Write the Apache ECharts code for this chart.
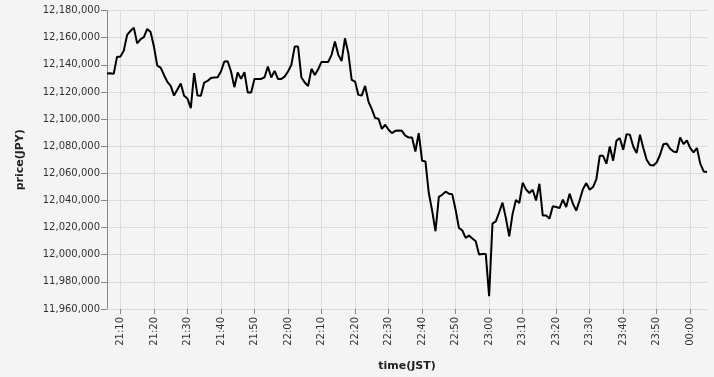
<!DOCTYPE html>
<html>
<head>
<meta charset="utf-8">
<script src="https://cdn.jsdelivr.net/npm/echarts@6/dist/echarts.min.js"></script>
<style>
html,body{margin:0;padding:0;background:#f4f4f4;}
#chart{width:714px;height:377px;}
</style>
</head>
<body>
<div id="chart"></div>
<script>
// Time labels (JST), one sample per minute
const times = [
'21:06','21:07','21:08','21:09','21:10','21:11','21:12','21:13','21:14','21:15','21:16','21:17','21:18','21:19',
'21:20','21:21','21:22','21:23','21:24','21:25','21:26','21:27','21:28','21:29',
'21:30','21:31','21:32','21:33','21:34','21:35','21:36','21:37','21:38','21:39',
'21:40','21:41','21:42','21:43','21:44','21:45','21:46','21:47','21:48','21:49',
'21:50','21:51','21:52','21:53','21:54','21:55','21:56','21:57','21:58','21:59',
'22:00','22:01','22:02','22:03','22:04','22:05','22:06','22:07','22:08','22:09',
'22:10','22:11','22:12','22:13','22:14','22:15','22:16','22:17','22:18','22:19',
'22:20','22:21','22:22','22:23','22:24','22:25','22:26','22:27','22:28','22:29',
'22:30','22:31','22:32','22:33','22:34','22:35','22:36','22:37','22:38','22:39',
'22:40','22:41','22:42','22:43','22:44','22:45','22:46','22:47','22:48','22:49',
'22:50','22:51','22:52','22:53','22:54','22:55','22:56','22:57','22:58','22:59',
'23:00','23:01','23:02','23:03','23:04','23:05','23:06','23:07','23:08','23:09',
'23:10','23:11','23:12','23:13','23:14','23:15','23:16','23:17','23:18','23:19',
'23:20','23:21','23:22','23:23','23:24','23:25','23:26','23:27','23:28','23:29',
'23:30','23:31','23:32','23:33','23:34','23:35','23:36','23:37','23:38','23:39',
'23:40','23:41','23:42','23:43','23:44','23:45','23:46','23:47','23:48','23:49',
'23:50','23:51','23:52','23:53','23:54','23:55','23:56','23:57','23:58','23:59',
'00:00','00:01','00:02','00:03','00:04','00:05'
];
// Price (JPY)
const prices = [
12133500,12133800,12133300,12146000,12146000,12150400,12162000,12164900,12167400,12155800,12158800,12160300,12166400,12164200,
12153400,12139400,12137900,12132500,12127400,12124400,12117300,12121700,12126200,12117100,
12115100,12108000,12133800,12117300,12117100,12126900,12128100,12130300,12130600,12130800,
12135000,12142400,12142600,12135000,12123500,12134300,12129600,12134500,12119500,12119500,
12129600,12129600,12129600,12130800,12138700,12130600,12135500,12129600,12129600,12131300,
12135000,12139900,12153400,12153400,12130600,12126900,12124400,12137000,12132500,12136700,
12142100,12142100,12142100,12147300,12157100,12147300,12142800,12159500,12148500,12128900,
12127600,12117800,12117300,12124400,12112900,12107300,12100700,12100200,12092800,12095800,
12092100,12089600,12091300,12091600,12091300,12087700,12086400,12086400,12076100,12089600,
12069300,12068800,12045500,12032500,12017300,12042600,12044200,12046500,12045000,12044500,
12033200,12019700,12018000,12012400,12014100,12011900,12009900,12000100,12000600,12000600,
11969400,12022900,12024600,12031300,12038400,12027000,12013600,12030100,12040300,12038100,
12053000,12048200,12045500,12047900,12040000,12052300,12029000,12029000,12026600,12035700,
12035200,12034400,12040600,12035200,12045000,12037600,12032500,12040100,12048400,12052800,
12047900,12049900,12055800,12072900,12072900,12067100,12079800,12069300,12084200,12085900,
12077400,12088900,12088400,12079800,12074900,12088400,12078600,12070000,12066100,12065800,
12068000,12073700,12081500,12082000,12078100,12076100,12075600,12086400,12081500,12084200,
12078600,12075400,12078600,12067100,12061400,12060900
];
// X tick labels
const xTickLabels = ['21:10','21:20','21:30','21:40','21:50','22:00','22:10','22:20','22:30',
  '22:40','22:50','23:00','23:10','23:20','23:30','23:40','23:50','00:00'];
const yTicks = { min: 11960000, max: 12180000, step: 20000 };

// minutes since 21:00 (after midnight rolls to next day)
function toMin(hhmm) {
  const [h, m] = hhmm.split(':').map(Number);
  return (h < 12 ? h + 24 : h) * 60 + m - 21 * 60;
}
function fromMin(v) {
  const tot = Math.round(v) + 21 * 60;
  const h = Math.floor(tot / 60) % 24, m = tot % 60;
  return (h < 10 ? '0' : '') + h + ':' + (m < 10 ? '0' : '') + m;
}
const seriesData = times.map((t, i) => [toMin(t), prices[i]]);
const xTickValues = xTickLabels.map(toMin);
const FONT = 'DejaVu Sans';

const chart = echarts.init(document.getElementById('chart'), null, { renderer: 'canvas' });
chart.setOption({
  backgroundColor: '#f4f4f4',
  animation: false,
  grid: { left: 107, right: 7, top: 10.5, bottom: 67.5, containLabel: false },
  xAxis: {
    type: 'value',
    min: seriesData[0][0],
    max: seriesData[seriesData.length - 1][0],
    name: 'time(JST)',
    nameLocation: 'middle',
    nameGap: 52,
    nameTextStyle: { fontFamily: FONT, fontSize: 11, fontWeight: 'bold', color: '#222' },
    axisLine: { show: true, lineStyle: { color: '#dcdcdc', width: 1 } },
    axisTick: { show: true, length: 5, lineStyle: { color: '#888' }, customValues: xTickValues },
    axisLabel: {
      rotate: 90, fontFamily: FONT, fontSize: 10, color: '#333', margin: 8,
      hideOverlap: false, customValues: xTickValues,
      formatter: v => fromMin(v)
    },
    splitLine: { show: true, lineStyle: { color: '#dcdcdc', width: 1 } }
  },
  yAxis: {
    type: 'value',
    min: yTicks.min,
    max: yTicks.max,
    interval: yTicks.step,
    name: 'price(JPY)',
    nameLocation: 'middle',
    nameGap: 81,
    nameTextStyle: { fontFamily: FONT, fontSize: 11, fontWeight: 'bold', color: '#222' },
    axisLine: { show: true, lineStyle: { color: '#888', width: 1 } },
    axisTick: { show: true, length: 6, lineStyle: { color: '#888' } },
    axisLabel: {
      fontFamily: FONT, fontSize: 10, color: '#333', margin: 7,
      formatter: v => v.toString().replace(/\B(?=(\d{3})+(?!\d))/g, ',')
    },
    splitLine: { show: true, lineStyle: { color: '#dcdcdc', width: 1 } }
  },
  series: [{
    type: 'line',
    data: seriesData,
    showSymbol: false,
    symbol: 'none',
    lineStyle: { color: '#000', width: 2 },
    itemStyle: { color: '#000' }
  }]
});
</script>
</body>
</html>
